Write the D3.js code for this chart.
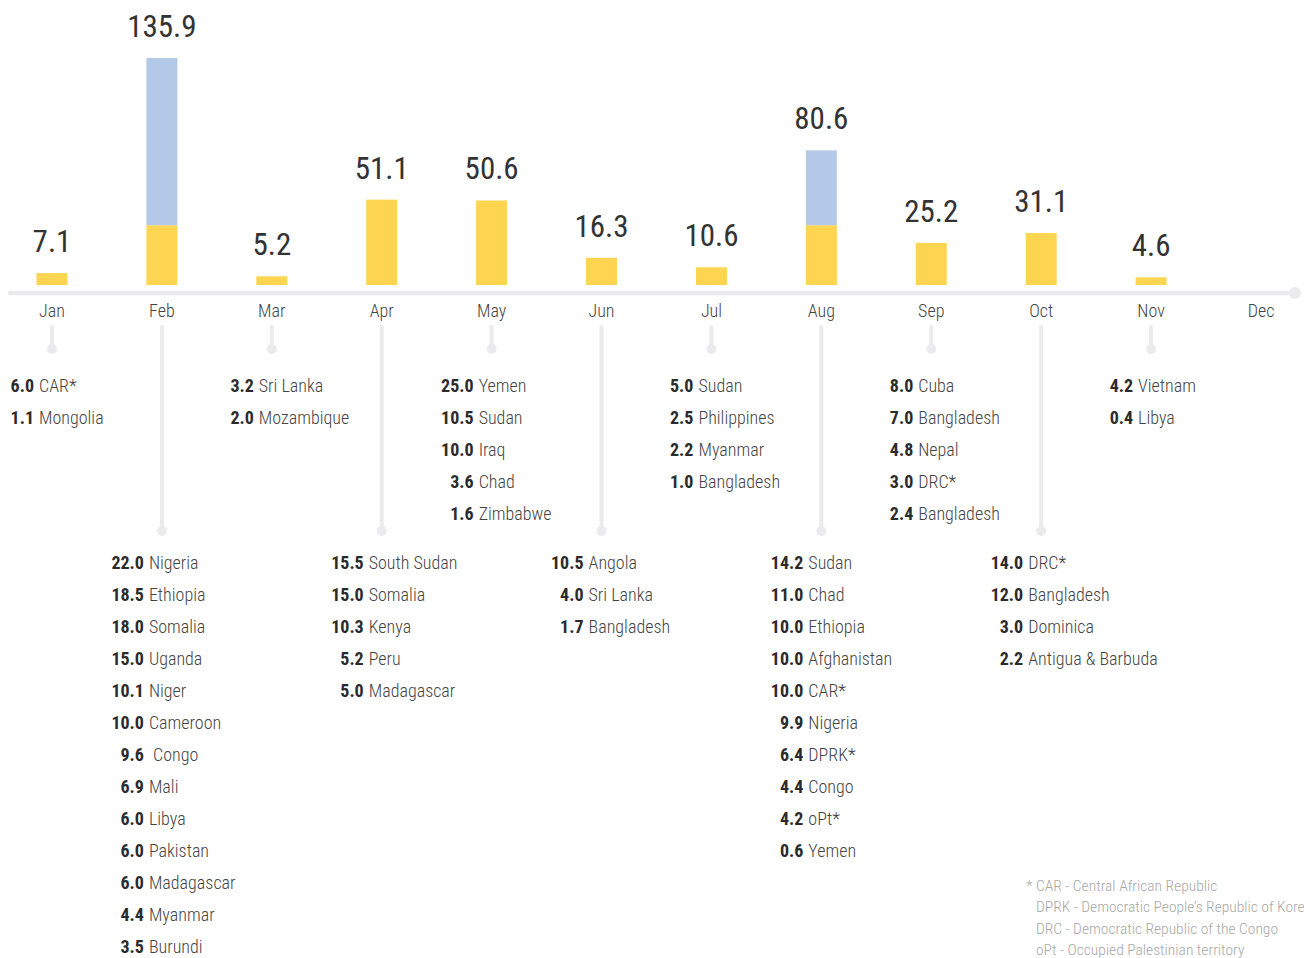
<!DOCTYPE html>
<html>
<head>
<meta charset="utf-8">
<script src="https://cdn.jsdelivr.net/npm/d3@7"></script>
<style>
  html, body { margin: 0; padding: 0; background: #fff; }
  svg { display: block; }
  text { font-family: "Roboto Condensed", "Roboto", sans-serif; font-stretch: 87.5%; }
  text.val { font-stretch: 80%; }
</style>
</head>
<body>
<svg id="chart" width="1304" height="958"></svg>
<script>
// ---- DATA ----
const months = ["Jan","Feb","Mar","Apr","May","Jun","Jul","Aug","Sep","Oct","Nov","Dec"];
const totals = [7.1, 135.9, 5.2, 51.1, 50.6, 16.3, 10.6, 80.6, 25.2, 31.1, 4.6, null];
const yellowPart = [7.1, 35.8, 5.2, 51.1, 50.6, 16.3, 10.6, 35.8, 25.2, 31.1, 4.6, 0];
const bluePart = [0, 100.1, 0, 0, 0, 0, 0, 44.8, 0, 0, 0, 0];

const janList = [["6.0","CAR*"],["1.1","Mongolia"]];
const febList = [["22.0","Nigeria"],["18.5","Ethiopia"],["18.0","Somalia"],["15.0","Uganda"],["10.1","Niger"],["10.0","Cameroon"],["9.6","\u00a0Congo"],["6.9","Mali"],["6.0","Libya"],["6.0","Pakistan"],["6.0","Madagascar"],["4.4","Myanmar"],["3.5","Burundi"]];
const marList = [["3.2","Sri Lanka"],["2.0","Mozambique"]];
const aprList = [["15.5","South Sudan"],["15.0","Somalia"],["10.3","Kenya"],["5.2","Peru"],["5.0","Madagascar"]];
const mayList = [["25.0","Yemen"],["10.5","Sudan"],["10.0","Iraq"],["3.6","Chad"],["1.6","Zimbabwe"]];
const junList = [["10.5","Angola"],["4.0","Sri Lanka"],["1.7","Bangladesh"]];
const julList = [["5.0","Sudan"],["2.5","Philippines"],["2.2","Myanmar"],["1.0","Bangladesh"]];
const augList = [["14.2","Sudan"],["11.0","Chad"],["10.0","Ethiopia"],["10.0","Afghanistan"],["10.0","CAR*"],["9.9","Nigeria"],["6.4","DPRK*"],["4.4","Congo"],["4.2","oPt*"],["0.6","Yemen"]];
const sepList = [["8.0","Cuba"],["7.0","Bangladesh"],["4.8","Nepal"],["3.0","DRC*"],["2.4","Bangladesh"]];
const octList = [["14.0","DRC*"],["12.0","Bangladesh"],["3.0","Dominica"],["2.2","Antigua & Barbuda"]];
const novList = [["4.2","Vietnam"],["0.4","Libya"]];
const decList = [];
const monthLists = [janList, febList, marList, aprList, mayList, junList, julList, augList, sepList, octList, novList, decList];

const footnotes = [
  "* CAR - Central African Republic",
  "DPRK - Democratic People\u2019s Republic of Korea",
  "DRC - Democratic Republic of the Congo",
  "oPt - Occupied Palestinian territory"
];

// ---- DRAW ----
const svg = d3.select("#chart");
const x = d3.scalePoint().domain(months).range([52, 1261]);
const y = d3.scaleLinear().domain([0, 135.9]).range([285, 58]);
const barW = 31;
const lineColor = "#ebebed";

// axis line
svg.append("line")
  .attr("x1", 10).attr("x2", 1295).attr("y1", 293).attr("y2", 293)
  .attr("stroke", lineColor).attr("stroke-width", 4.5).attr("stroke-linecap", "round");
svg.append("circle").attr("cx", 1295).attr("cy", 293).attr("r", 6).attr("fill", lineColor);

const data = months.map((m, i) => ({ m, i, total: totals[i], yel: yellowPart[i], blue: bluePart[i], list: monthLists[i] }));

// bars
svg.selectAll("rect.yel").data(data.filter(d => d.yel > 0)).join("rect")
  .attr("class", "yel")
  .attr("x", d => x(d.m) - barW / 2).attr("width", barW)
  .attr("y", d => y(d.yel)).attr("height", d => y(0) - y(d.yel))
  .attr("fill", "#fdd551");
svg.selectAll("rect.blue").data(data.filter(d => d.blue > 0)).join("rect")
  .attr("class", "blue")
  .attr("x", d => x(d.m) - barW / 2).attr("width", barW)
  .attr("y", d => y(d.yel + d.blue)).attr("height", d => y(d.yel) - y(d.yel + d.blue))
  .attr("fill", "#b3c9e7");

// value labels
svg.selectAll("text.val").data(data.filter(d => d.total != null)).join("text")
  .attr("class", "val")
  .attr("x", d => x(d.m)).attr("y", d => y(d.total) - 21)
  .attr("text-anchor", "middle")
  .attr("font-size", 31).attr("fill", "#333")
  .text(d => d.total.toFixed(1));

// month labels
svg.selectAll("text.month").data(data).join("text")
  .attr("class", "month")
  .attr("x", d => x(d.m)).attr("y", 317)
  .attr("text-anchor", "middle")
  .attr("font-size", 18).attr("font-weight", 300).attr("fill", "#444")
  .text(d => d.m);

// connectors
const withList = data.filter(d => d.list.length > 0);
const isLower = d => d.i % 2 === 1;
svg.selectAll("line.conn").data(withList).join("line")
  .attr("class", "conn")
  .attr("x1", d => x(d.m)).attr("x2", d => x(d.m))
  .attr("y1", 327).attr("y2", d => isLower(d) ? 531 : 349)
  .attr("stroke", lineColor).attr("stroke-width", 4).attr("stroke-linecap", "round");
svg.selectAll("circle.conn").data(withList).join("circle")
  .attr("class", "conn")
  .attr("cx", d => x(d.m)).attr("cy", d => isLower(d) ? 531 : 349)
  .attr("r", 5).attr("fill", lineColor);

// lists
const rowH = 32;
withList.forEach(d => {
  const g = svg.append("g");
  const y0 = isLower(d) ? 569 : 392;
  d.list.forEach((row, k) => {
    g.append("text")
      .attr("x", x(d.m) - 18).attr("y", y0 + k * rowH)
      .attr("text-anchor", "end")
      .attr("font-size", 18).attr("font-weight", 700).attr("fill", "#2b2b2b")
      .text(row[0]);
    g.append("text")
      .attr("x", x(d.m) - 13).attr("y", y0 + k * rowH)
      .attr("font-size", 18).attr("font-weight", 300).attr("fill", "#444")
      .text(row[1]);
  });
});

// footnotes
svg.selectAll("text.foot").data(footnotes).join("text")
  .attr("class", "foot")
  .attr("x", (d, i) => i === 0 ? 1026 : 1036)
  .attr("y", (d, i) => 891 + i * 21.3)
  .attr("font-size", 15.5).attr("font-weight", 300).attr("fill", "#a8a8a8")
  .text(d => d);
</script>
</body>
</html>
